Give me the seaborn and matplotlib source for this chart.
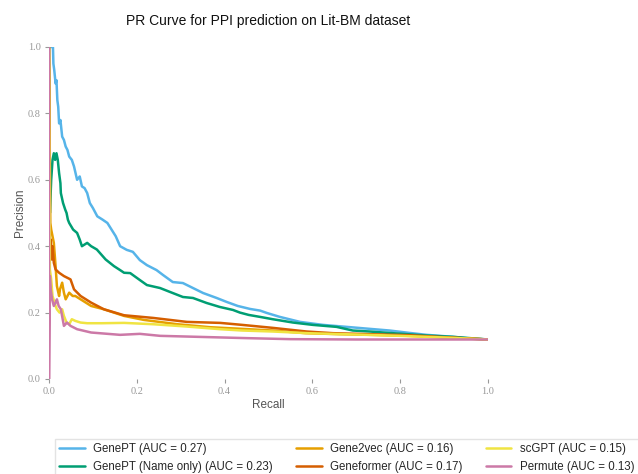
import numpy as np
import pandas as pd
import matplotlib
matplotlib.use("Agg")
import matplotlib.pyplot as plt
import seaborn as sns

# Precision-recall points for each embedding model
models = [
    "GenePT (AUC = 0.27)",
    "GenePT (Name only) (AUC = 0.23)",
    "Gene2vec (AUC = 0.16)",
    "Geneformer (AUC = 0.17)",
    "scGPT (AUC = 0.15)",
    "Permute (AUC = 0.13)",
]
colors = ["#56B4E9", "#009E73", "#E69F00", "#D55E00", "#F0E442", "#CC79A7"]

genept_recall = [0.0, 0.005, 0.009, 0.010, 0.012, 0.015, 0.017, 0.019, 0.021, 0.023, 0.026,
                 0.030, 0.034, 0.038, 0.042, 0.046, 0.052, 0.057, 0.064, 0.070, 0.075, 0.081,
                 0.087, 0.093, 0.100, 0.110, 0.122, 0.133, 0.152, 0.162, 0.177, 0.191, 0.207,
                 0.223, 0.245, 0.260, 0.282, 0.305, 0.328, 0.351, 0.382, 0.405, 0.430, 0.458,
                 0.481, 0.496, 0.526, 0.572, 0.624, 0.678, 0.731, 0.776, 0.820, 0.860, 0.920,
                 0.959, 1.0]
genept_precision = [1.0, 1.0, 1.0, 0.95, 0.93, 0.89, 0.90, 0.84, 0.82, 0.77, 0.78,
                    0.73, 0.72, 0.70, 0.69, 0.67, 0.66, 0.64, 0.60, 0.61, 0.58, 0.575,
                    0.56, 0.53, 0.515, 0.49, 0.48, 0.47, 0.43, 0.40, 0.389, 0.383, 0.358,
                    0.343, 0.328, 0.313, 0.292, 0.289, 0.274, 0.259, 0.244, 0.232, 0.220, 0.211,
                    0.206, 0.199, 0.187, 0.172, 0.163, 0.157, 0.151, 0.146, 0.139, 0.133, 0.127,
                    0.122, 0.119]

name_recall = [0.0, 0.002, 0.005, 0.008, 0.011, 0.014, 0.017, 0.020, 0.023, 0.026, 0.027,
               0.032, 0.037, 0.040, 0.043, 0.046, 0.055, 0.064, 0.070, 0.075, 0.087, 0.096,
               0.109, 0.129, 0.148, 0.162, 0.171, 0.185, 0.207, 0.223, 0.253, 0.276, 0.305,
               0.328, 0.359, 0.389, 0.419, 0.435, 0.455, 0.481, 0.510, 0.556, 0.601, 0.655,
               0.692, 0.731, 0.783, 0.860, 0.920, 1.0]
name_precision = [1.0, 0.50, 0.60, 0.66, 0.68, 0.66, 0.68, 0.66, 0.62, 0.59, 0.56,
                  0.53, 0.51, 0.50, 0.48, 0.47, 0.45, 0.44, 0.42, 0.40, 0.41, 0.40,
                  0.39, 0.36, 0.34, 0.328, 0.32, 0.319, 0.298, 0.283, 0.274, 0.262, 0.247,
                  0.244, 0.229, 0.217, 0.208, 0.200, 0.193, 0.187, 0.180, 0.170, 0.163, 0.157,
                  0.146, 0.143, 0.138, 0.131, 0.127, 0.119]

gene2vec_recall = [0.0, 0.003, 0.005, 0.008, 0.011, 0.015, 0.018, 0.023, 0.025, 0.030, 0.034,
                   0.038, 0.046, 0.054, 0.060, 0.072, 0.096, 0.125, 0.171, 0.216, 0.292, 0.367,
                   0.440, 0.510, 0.585, 0.661, 0.736, 0.820, 0.900, 1.0]
gene2vec_precision = [1.0, 0.47, 0.45, 0.43, 0.41, 0.34, 0.28, 0.25, 0.27, 0.29, 0.26,
                      0.24, 0.26, 0.25, 0.25, 0.24, 0.22, 0.21, 0.19, 0.178, 0.165, 0.156,
                      0.151, 0.146, 0.138, 0.135, 0.133, 0.130, 0.125, 0.119]

geneformer_recall = [0.0, 0.002, 0.004, 0.006, 0.008, 0.011, 0.015, 0.023, 0.034, 0.049, 0.057,
                     0.072, 0.096, 0.125, 0.171, 0.237, 0.314, 0.390, 0.440, 0.510, 0.587, 0.647,
                     0.731, 0.820, 0.900, 1.0]
geneformer_precision = [1.0, 0.37, 0.42, 0.36, 0.40, 0.35, 0.33, 0.32, 0.31, 0.30, 0.27,
                        0.25, 0.23, 0.21, 0.192, 0.184, 0.172, 0.169, 0.163, 0.154, 0.143, 0.138,
                        0.135, 0.132, 0.126, 0.119]

scgpt_recall = [0.0, 0.002, 0.005, 0.008, 0.015, 0.018, 0.024, 0.030, 0.034, 0.040, 0.046,
                0.052, 0.060, 0.072, 0.087, 0.120, 0.171, 0.237, 0.314, 0.390, 0.440, 0.510,
                0.590, 0.700, 0.800, 0.900, 1.0]
scgpt_precision = [1.0, 0.33, 0.30, 0.25, 0.22, 0.21, 0.20, 0.21, 0.19, 0.17, 0.165,
                   0.18, 0.175, 0.17, 0.168, 0.168, 0.169, 0.165, 0.158, 0.150, 0.146, 0.143,
                   0.138, 0.134, 0.130, 0.125, 0.119]

permute_recall = [0.0, 0.0, 0.002, 0.004, 0.007, 0.011, 0.015, 0.018, 0.022, 0.027, 0.034,
                  0.041, 0.049, 0.064, 0.096, 0.162, 0.207, 0.253, 0.310, 0.453, 0.550, 0.700,
                  0.850, 1.0]
permute_precision = [1.0, 0.0, 0.31, 0.27, 0.24, 0.22, 0.23, 0.24, 0.22, 0.21, 0.16,
                     0.17, 0.16, 0.15, 0.14, 0.133, 0.136, 0.130, 0.128, 0.123, 0.120, 0.119,
                     0.119, 0.119]

recalls = [genept_recall, name_recall, gene2vec_recall, geneformer_recall, scgpt_recall, permute_recall]
precisions = [genept_precision, name_precision, gene2vec_precision, geneformer_precision,
              scgpt_precision, permute_precision]

tick_values = [0.0, 0.2, 0.4, 0.6, 0.8, 1.0]
tick_labels = ["0.0", "0.2", "0.4", "0.6", "0.8", "1.0"]

frames = []
for name, r, p in zip(models, recalls, precisions):
    frames.append(pd.DataFrame({"Recall": r, "Precision": p, "Model": name}))
df = pd.concat(frames, ignore_index=True)

sns.set_style("white")
plt.rcParams["font.family"] = ["Liberation Sans", "DejaVu Sans"]

fig = plt.figure(figsize=(6.38, 4.74), dpi=100)
ax = fig.add_axes([49 / 638, 1 - 379 / 474, 439 / 638, 332 / 474])

sns.lineplot(data=df, x="Recall", y="Precision", hue="Model", hue_order=models,
             palette=colors, sort=False, estimator=None, units="Model",
             linewidth=1.8, ax=ax, legend=False)

ax.set_xlim(0, 1)
ax.set_ylim(0, 1)
sns.despine(ax=ax, left=True, bottom=True, top=True, right=True)

ax.set_xticks(tick_values)
ax.set_xticklabels(tick_labels)
ax.set_yticks(tick_values)
ax.set_yticklabels(tick_labels)
ax.tick_params(axis="both", which="major", length=3, width=0.8, color="#999999",
               direction="out", labelsize=7.5, labelcolor="#999999", pad=3,
               bottom=True, left=True)
for lab in ax.get_xticklabels() + ax.get_yticklabels():
    lab.set_fontfamily("Liberation Serif")

ax.set_xlabel("Recall", fontsize=8.5, color="#555555", labelpad=2)
ax.set_ylabel("Precision", fontsize=8.5, color="#555555", labelpad=1)
ax.set_title("PR Curve for PPI prediction on Lit-BM dataset", fontsize=10,
             color="#111111", pad=16)

handles = [plt.Line2D([], [], color=c, linewidth=1.8) for c in colors]
fig.legend(handles, models, loc="upper left", bbox_to_anchor=(49 / 638, 1 - 433 / 474),
           ncol=3, fontsize=8.3, frameon=True, fancybox=False, edgecolor="#dddddd",
           handlelength=2.25, handletextpad=0.7, columnspacing=2.0, borderpad=0.4,
           labelspacing=0.45)

fig.savefig("out.png", dpi=100)
